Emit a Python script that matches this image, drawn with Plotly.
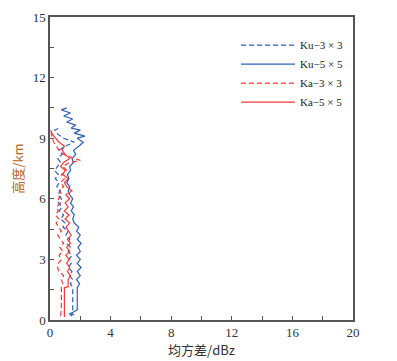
import plotly.graph_objects as go

# Ku-3x3 (blue dashed)
ku3_h = [0.25,0.3,0.4,0.5,1.6,1.8,2.0,2.2,2.4,2.6,2.8,3.0,3.2,3.4,3.6,3.8,4.0,4.2,4.4,4.6,4.8,5.0,5.2,5.4,5.6,5.8,6.0,6.2,6.4,6.6,6.8,7.0,7.2,7.4,7.6,7.8,8.0,8.2,8.4,8.6,8.8,9.0,9.2,9.4,9.5]
ku3_v = [1.6,1.4,1.55,1.5,1.5,1.35,1.5,1.3,1.45,1.2,1.4,1.25,1.45,1.2,1.35,1.1,1.3,1.05,1.2,0.85,1.0,0.7,0.9,0.6,0.8,0.55,0.75,0.5,0.7,0.45,0.6,0.35,0.55,0.3,0.5,0.7,0.5,0.8,0.6,1.0,1.6,0.9,0.5,0.3,0.6]

# Ku-5x5 (blue solid)
ku5_h = [0.2,0.3,0.4,0.5,1.0,1.6,1.8,2.0,2.2,2.4,2.6,2.8,3.0,3.2,3.4,3.6,3.8,4.0,4.2,4.4,4.6,4.8,5.0,5.2,5.4,5.6,5.8,6.0,6.2,6.4,6.6,6.8,7.0,7.2,7.4,7.6,7.8,8.0,8.2,8.4,8.6,8.8,9.0,9.1,9.25,9.4,9.5,9.65,9.8,9.95,10.1,10.25,10.4,10.5]
ku5_v = [1.45,1.3,1.55,1.8,1.8,1.8,1.95,1.75,2.0,1.8,2.05,1.8,2.0,1.75,2.0,1.85,2.05,1.8,2.0,1.75,1.9,1.6,1.5,1.6,1.4,1.55,1.35,1.5,1.3,1.2,1.3,1.1,1.25,1.15,1.35,1.3,1.55,1.45,1.7,1.55,1.9,2.2,1.8,2.3,1.6,2.0,1.4,1.7,1.1,1.5,0.9,1.35,0.75,1.1]

# Ka-3x3 (red dashed)
ka3_h = [0.2,0.5,1.6,1.8,2.0,2.2,2.4,2.6,2.8,3.0,3.2,3.4,3.6,3.8,4.0,4.2,4.4,4.6,4.8,5.0,5.2,5.4,5.6,5.8,6.0,6.2,6.4,6.6,6.8,7.0,7.2,7.4,7.6,7.8,7.9,8.0,8.2,8.4,8.6,8.8,9.0,9.2,9.4]
ka3_v = [0.7,0.75,0.75,0.85,0.75,0.9,0.6,0.5,0.55,0.75,0.6,0.85,0.65,0.9,0.7,0.5,0.75,0.55,0.4,0.6,0.35,0.55,0.45,0.7,0.55,0.8,0.6,0.9,0.7,0.95,0.75,1.1,0.85,1.3,2.0,1.6,0.9,0.6,0.4,0.25,0.15,0.1,0.05]

# Ka-5x5 (red solid)
ka5_h = [0.15,1.6,1.65,2.0,2.2,2.4,2.6,2.8,3.0,3.2,3.4,3.6,3.8,4.0,4.2,4.4,4.6,4.8,5.0,5.2,5.4,5.6,5.8,6.0,6.2,6.4,6.6,6.8,7.0,7.2,7.4,7.6,7.8,8.0,8.2,8.4,8.6,8.8,9.0,9.2,9.4]
ka5_v = [0.95,0.95,1.2,1.2,1.35,1.15,1.3,1.1,1.25,1.05,1.3,1.1,1.35,1.15,1.4,1.2,1.05,1.3,1.0,1.25,0.95,1.2,1.0,1.3,1.05,1.45,1.1,0.95,1.2,0.85,1.0,0.7,0.9,1.3,1.0,0.8,0.95,0.6,0.4,0.15,0.05]

x_ticks = [0, 4, 8, 12, 16, 20]
y_ticks = [0, 3, 6, 9, 12, 15]

BLUE = "#2f5fb3"
RED = "#f23a3a"
FONT = "Liberation Serif"

fig = go.Figure()
fig.add_trace(go.Scatter(x=ku3_v, y=ku3_h, mode="lines", name="Ku\u22123 \u00d7 3",
                         line=dict(color=BLUE, width=1.2, dash="5px,3px")))
fig.add_trace(go.Scatter(x=ku5_v, y=ku5_h, mode="lines", name="Ku\u22125 \u00d7 5",
                         line=dict(color=BLUE, width=1.2)))
fig.add_trace(go.Scatter(x=ka3_v, y=ka3_h, mode="lines", name="Ka\u22123 \u00d7 3",
                         line=dict(color=RED, width=1.2, dash="5px,3px")))
fig.add_trace(go.Scatter(x=ka5_v, y=ka5_h, mode="lines", name="Ka\u22125 \u00d7 5",
                         line=dict(color=RED, width=1.2)))

axis_common = dict(showgrid=False, zeroline=False, showline=True, mirror=True,
                   linecolor="#555555", linewidth=1.5, ticks="inside", ticklen=4,
                   tickcolor="#555555", tickwidth=1, automargin=False,
                   tickfont=dict(family=FONT, size=13, color="#333333"))

# page body has an 8px margin; the figure is sized to fit the 397x361 window
fig.update_layout(
    width=389, height=353,
    margin=dict(l=42, r=44, t=9, b=41),
    paper_bgcolor="white", plot_bgcolor="white",
    showlegend=True,
    legend=dict(x=0.614, y=0.955, xanchor="left", yanchor="top",
                font=dict(family=FONT, size=11, color="#222222"),
                bgcolor="rgba(0,0,0,0)", itemwidth=54, tracegroupgap=0),
    xaxis=dict(range=[0, 20], tickvals=x_ticks, ticktext=[str(v) for v in x_ticks],
               minor=dict(ticks="inside", ticklen=4, tickcolor="#555555", dtick=2),
               title=dict(text="均方差/dBz", standoff=1,
                          font=dict(family="Noto Sans CJK SC, " + FONT, size=13, color="#333333")),
               **axis_common),
    yaxis=dict(range=[0, 15], tickvals=y_ticks, ticktext=[str(v) for v in y_ticks],
               minor=dict(ticks="inside", ticklen=4, tickcolor="#555555", dtick=1.5),
               title=dict(text="高度/km", standoff=8,
                          font=dict(family="Noto Sans CJK SC, " + FONT, size=13, color="#b5651d")),
               **axis_common),
)

fig.write_html("out.html")
